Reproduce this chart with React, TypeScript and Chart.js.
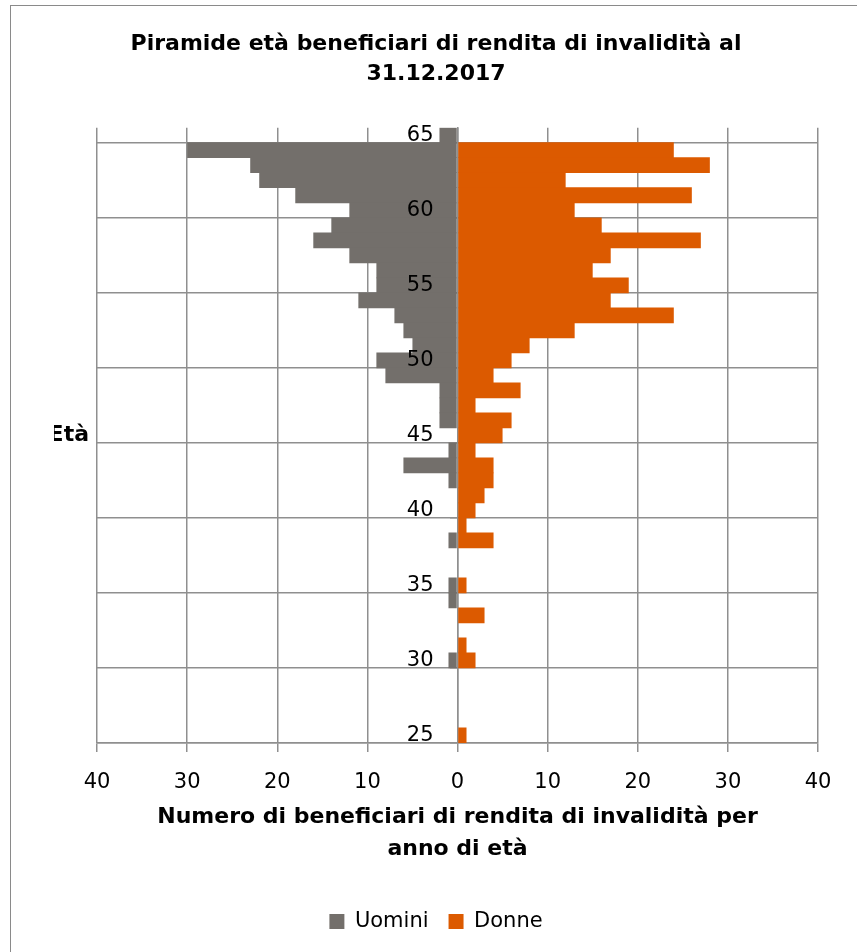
import React, { useEffect, useRef } from 'react';
import { Chart, registerables } from 'chart.js';

Chart.register(...registerables);

// Ages from top (65) to bottom (25)
const ages = [
  '65', '64', '63', '62', '61', '60', '59', '58', '57', '56',
  '55', '54', '53', '52', '51', '50', '49', '48', '47', '46',
  '45', '44', '43', '42', '41', '40', '39', '38', '37', '36',
  '35', '34', '33', '32', '31', '30', '29', '28', '27', '26', '25',
];

const uomini = [
  2, 30, 23, 22, 18, 12, 14, 16, 12, 9,
  9, 11, 7, 6, 5, 9, 8, 2, 2, 2,
  0, 1, 6, 1, 0, 0, 0, 1, 0, 0,
  1, 1, 0, 0, 0, 1, 0, 0, 0, 0, 0,
];

const donne = [
  0, 24, 28, 12, 26, 13, 16, 27, 17, 15,
  19, 17, 24, 13, 8, 6, 4, 7, 2, 6,
  5, 2, 4, 4, 3, 2, 1, 4, 0, 0,
  1, 0, 3, 0, 1, 2, 0, 0, 0, 0, 1,
];

const xMin = -40;
const xMax = 40;
const xStep = 10;

const titleLines = ['Piramide età beneficiari di rendita di invalidità al', '31.12.2017'];
const xTitleLines = ['Numero di beneficiari di rendita di invalidità per', 'anno di età'];
const yTitle = 'Età';

const FONT = '"DejaVu Sans", sans-serif';
const GRID = '#8f8f8f';
const GRAY = '#736f6b';
const ORANGE = '#dc5a00';

export default function App() {
  const ref = useRef<HTMLCanvasElement | null>(null);

  useEffect(() => {
    if (!ref.current) return;
    const yGridColor = (ctx: any) => {
      if (ctx.index === undefined) return GRID;
      return (ctx.index - 1) % 5 === 0 ? GRID : 'rgba(0,0,0,0)';
    };
    const chart = new Chart(ref.current, {
      type: 'bar',
      data: {
        labels: ages,
        datasets: [
          {
            label: 'Uomini',
            data: uomini.map((v) => -v),
            backgroundColor: GRAY,
            borderWidth: 0,
            barPercentage: 1.05,
            categoryPercentage: 1,
            yAxisID: 'y',
            xAxisID: 'x',
          },
          {
            label: 'Donne',
            data: donne,
            backgroundColor: ORANGE,
            borderWidth: 0,
            barPercentage: 1.05,
            categoryPercentage: 1,
            yAxisID: 'y',
            xAxisID: 'x',
          },
        ],
      },
      options: {
        indexAxis: 'y',
        animation: false,
        responsive: false,
        maintainAspectRatio: false,
        devicePixelRatio: 1,
        layout: { padding: { left: 54, right: 39, top: 0, bottom: 10 } },
        plugins: {
          title: {
            display: true,
            text: titleLines,
            color: '#000',
            font: { family: FONT, size: 22, weight: 'bold', lineHeight: 1.38 },
            padding: { top: 29, bottom: 38 },
          },
          legend: {
            display: true,
            position: 'bottom',
            labels: {
              boxWidth: 15,
              boxHeight: 15,
              padding: 20,
              color: '#000',
              font: { family: FONT, size: 21 },
            },
          },
          tooltip: { enabled: false },
        },
        scales: {
          x: {
            type: 'linear',
            position: 'bottom',
            min: xMin,
            max: xMax,
            stacked: true,
            ticks: {
              stepSize: xStep,
              color: '#000',
              padding: 17.5,
              font: { family: FONT, size: 21 },
              callback: (v: any) => String(Math.abs(Number(v))),
            },
            grid: { color: GRID, lineWidth: 1.5, tickLength: 9, tickColor: GRID, drawTicks: true },
            border: { display: true, color: GRID, width: 1.5 },
            title: {
              display: true,
              text: xTitleLines,
              color: '#000',
              font: { family: FONT, size: 22, weight: 'bold', lineHeight: 1.45 },
              padding: { top: -10.5, bottom: 25.5 },
            },
          },
          y: {
            type: 'category',
            position: { x: 0 } as any,
            stacked: true,
            offset: true,
            ticks: { display: false, autoSkip: false },
            grid: {
              offset: true,
              color: yGridColor,
              lineWidth: 1.5,
              tickLength: 7,
              tickColor: yGridColor,
              drawTicks: true,
            },
            border: { display: true, color: GRID, width: 1.5 },
          },
          yLab: {
            type: 'category',
            position: { x: -2.66 } as any,
            offset: true,
            ticks: {
              z: 1,
              autoSkip: false,
              color: '#000',
              padding: 0,
              font: { family: FONT, size: 21 },
              callback: (_v: any, i: number) => (Number(ages[i]) % 5 === 0 ? ages[i] : ''),
            },
            grid: { display: false, drawTicks: false },
            border: { display: false },
          } as any,
          yLeft: {
            type: 'category',
            position: 'left',
            offset: true,
            ticks: {
              autoSkip: false,
              color: '#000',
              padding: 8,
              font: { family: FONT, size: 22, weight: 'bold' },
              callback: (_v: any, i: number) => (ages[i] === '45' ? yTitle : ''),
            },
            grid: { display: false, drawTicks: false },
            border: { display: false },
            afterFit: (scale: any) => {
              scale.width = 43;
            },
          } as any,
        },
      },
    });
    return () => chart.destroy();
  }, []);

  return (
    <div
      style={{
        position: 'fixed',
        left: 0,
        top: 0,
        width: 857,
        height: 952,
        overflow: 'hidden',
        background: '#fff',
      }}
    >
      <div
        style={{
          position: 'absolute',
          left: 10,
          top: 5,
          width: 900,
          height: 1000,
          borderTop: '1.5px solid #8a8a8a',
          borderLeft: '1.5px solid #8a8a8a',
        }}
      />
      <canvas
        ref={ref}
        width={857}
        height={952}
        style={{ position: 'absolute', left: 0, top: 0, width: 857, height: 952 }}
      />
    </div>
  );
}
